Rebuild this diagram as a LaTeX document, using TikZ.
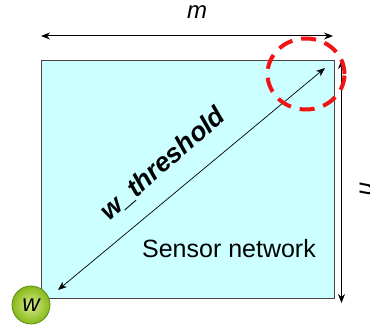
\documentclass[tikz,border=0pt]{standalone}
\usepackage{fontspec}
\setmainfont{Liberation Sans}
\usetikzlibrary{arrows.meta}

\definecolor{netfill}{RGB}{204,255,255}
\definecolor{netline}{RGB}{70,70,70}
\definecolor{zonered}{RGB}{240,20,20}
\definecolor{wlight}{RGB}{215,235,140}
\definecolor{wdark}{RGB}{135,185,25}
\definecolor{wline}{RGB}{95,140,20}

\tikzset{
  dimarrow/.style={{Stealth[length=9pt,width=7pt]}-{Stealth[length=9pt,width=7pt]}, line width=1pt},
  bigtext/.style={font=\fontsize{24}{28}\selectfont, inner sep=0pt},
}

\begin{document}
\begin{tikzpicture}[x=1pt, y=1pt]
\useasboundingbox (0,0) rectangle (370,328);
% sensor field
\coordinate (SW) at (41,30);
\coordinate (NE) at (334,268);
\draw[netline, fill=netfill, line width=0.8pt] (SW) rectangle (NE);
\node[bigtext, font=\fontsize{25}{30}\selectfont] (net) at (229,79) {Sensor network};
% dimensions
\coordinate (TL) at (41,292);
\coordinate (TR) at (333,292);
\draw[dimarrow] (TL) -- (TR);
\node[bigtext] (m) at (197,316) {\itshape m};
\coordinate (RT) at (341.5,268);
\coordinate (RB) at (341.5,25);
\draw[dimarrow] (RT) -- (RB);
\node[bigtext, rotate=-90] (n) at (366,139) {\itshape n};
% threshold distance
\coordinate (D1) at (58,38);
\coordinate (D2) at (325,260);
\draw[dimarrow, line width=0.7pt] (D1) -- (D2);
\node[bigtext, font=\fontsize{26.5}{30}\selectfont, rotate=41] (thr) at (163,164) {\bfseries\itshape w\_threshold};
% far corner
\draw[zonered, line width=4pt, dash pattern=on 15pt off 9pt] (306,254) ellipse [x radius=38.5, y radius=35.5];
% sink node
\shade[inner color=wlight, outer color=wdark, draw=wline, line width=0.8pt] (31,23) circle (19);
\node[bigtext] (w) at (31,23) {\itshape w};
\end{tikzpicture}
\end{document}
